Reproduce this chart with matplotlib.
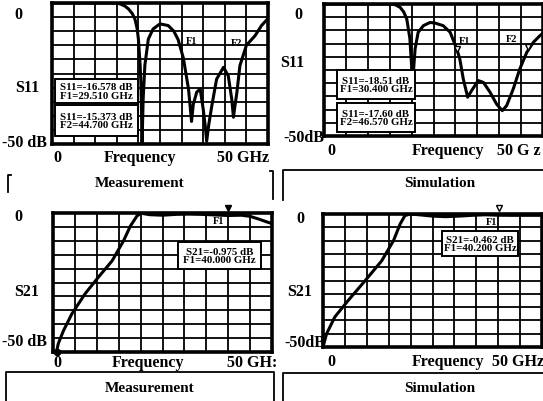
import numpy as np
import matplotlib.pyplot as plt
from matplotlib.patches import Rectangle
from matplotlib.lines import Line2D

W, H = 543, 402
FONT = 'Liberation Serif'

# --- data (GHz, dB) ---
meas_s11_f = [0, 5, 10, 15, 15.7, 16.8, 17.7, 18.6, 19.2, 19.7, 20.0, 20.4, 20.6,
              20.85, 21.1, 21.5, 22.3, 23.4, 25.0, 26.9, 28.2, 29.2, 30.4, 31.6,
              32.0, 32.3, 32.7, 33.5, 34.3, 35.0, 35.5, 35.8, 36.3, 37.0, 38.1,
              39.7, 40.8, 41.6, 42.0, 42.3, 42.8, 43.5, 45.0, 47.0, 48.5, 50.0]
meas_s11_db = [0, 0, 0, 0, -0.3, -1.0, -2.1, -3.8, -5.7, -9, -12.8, -22, -29,
               -50, -34, -22, -12.8, -9.2, -7.4, -8, -10, -13, -19.5, -30.5,
               -37, -42, -36, -31.6, -30.5, -37.6, -44, -49, -43, -36.4, -27,
               -22.8, -25.8, -34, -40.5, -37, -31.7, -22.2, -15, -11.6, -8, -5.5]

sim_s11_f = [0, 5, 10, 15, 16.3, 17.4, 18.2, 18.9, 19.6, 20.0, 20.2, 20.4, 20.8,
             21.5, 22.7, 24.2, 25.3, 27.2, 28.8, 30.3, 31.0, 31.8, 32.8, 33.7,
             35.2, 36.4, 37.9, 39.4, 40.7, 41.7, 43.2, 44.7, 46.3, 47.8, 49.3, 50]
sim_s11_db = [0, 0, 0, 0, -0.3, -1.3, -3, -5.7, -13, -23.4, -32, -26, -17,
              -10.7, -8.2, -7, -7.2, -8.2, -10.7, -17, -20.8, -28.4, -35.3, -32.8,
              -29, -29.7, -33.4, -37.9, -40.4, -38.5, -32.2, -24.6, -18.3, -14.5, -12, -11]

meas_s21_f = [0.8, 1.2, 2.4, 4.3, 7.3, 10.4, 13.5, 16.1, 17.7, 19.2, 20.2, 22, 25,
              28, 31, 34, 37, 40, 43, 45, 47, 49, 50]
meas_s21_db = [-50, -47, -42.3, -36.3, -29.1, -23, -17.2, -10, -4.6, -1, -0.1, -0.6,
               -0.8, -0.5, -0.4, -0.5, -0.7, -0.9, -0.8, -1.2, -2.2, -3.3, -3.8]

sim_s21_f = [0, 0.8, 2.7, 5.7, 9.6, 13.4, 16.1, 17.6, 18.7, 19.9, 22, 25, 28, 31,
             34, 37, 40, 43, 46, 50]
sim_s21_db = [-50, -45.1, -38.7, -32.6, -25.1, -17.6, -10, -3.8, -0.6, 0, -0.3,
              -0.8, -1.0, -0.8, -0.5, -0.3, -0.46, -0.5, -0.5, -0.5]

sim_s11_marks = [(30.40, -18.51), (46.57, -17.60)]

fig = plt.figure(figsize=(W / 100, H / 100), dpi=100)


def px_axes(x0, y0, x1, y1):
    return fig.add_axes([x0 / W, 1 - y1 / H, (x1 - x0) / W, (y1 - y0) / H])


def ftext(x, y, s, size=11.5, ha='center', va='center'):
    fig.text(x / W, 1 - y / H, s, fontsize=size, ha=ha, va=va,
             family=FONT, weight='bold')


def fline(xs, ys, lw=1.3):
    fig.add_artist(Line2D([x / W for x in xs], [1 - y / H for y in ys],
                          color='black', lw=lw))


def setup(ax):
    ax.set_xlim(0, 50)
    ax.set_ylim(-50, 0)
    ax.set_xticks(np.linspace(0, 50, 11))
    ax.set_yticks(np.linspace(-50, 0, 11))
    ax.grid(True, color='black', lw=1.3)
    ax.tick_params(length=0, labelbottom=False, labelleft=False)
    for s in ax.spines.values():
        s.set_linewidth(2.6)


def box(ax, x0, y0, x1, y1, lines, size=7.8):
    ax.add_patch(Rectangle((x0, y0), x1 - x0, y1 - y0, transform=ax.transAxes,
                           facecolor='white', edgecolor='black', lw=1.4, zorder=5))
    ax.text((x0 + x1) / 2, (y0 + y1) / 2, '\n'.join(lines), transform=ax.transAxes,
            ha='center', va='center', fontsize=size, family=FONT, weight='bold',
            linespacing=0.95, zorder=6)


def mlabel(ax, f, db, s):
    ax.text(f, db, s, fontsize=7.5, family=FONT, weight='bold',
            ha='center', va='center', zorder=4)


# top left: measured S11
ax1 = px_axes(52, 4, 268, 145)
setup(ax1)
ax1.plot(meas_s11_f, meas_s11_db, color='black', lw=2.2, zorder=3)
box(ax1, 0.014, 0.29, 0.398, 0.46, ['S11=-16.578 dB', 'F1=29.510 GHz'])
box(ax1, 0.014, 0.057, 0.398, 0.277, ['S11=-15.373 dB', 'F2=44.700 GHz'])
mlabel(ax1, 32.3, -13.4, 'F1')
mlabel(ax1, 42.8, -14, 'F2')

# top right: simulated S11
ax2 = px_axes(324, 5, 543, 137)
setup(ax2)
ax2.plot(sim_s11_f, sim_s11_db, color='black', lw=2.2, zorder=3)
for f, db in sim_s11_marks:
    ax2.plot(f, db + 1.5, marker='v', ms=4.5, mfc='white', mec='black', mew=1.0, zorder=4)
box(ax2, 0.058, 0.28, 0.416, 0.502, ['S11=-18.51 dB', 'F1=30.400 GHz'])
box(ax2, 0.058, 0.028, 0.416, 0.25, ['S11=-17.60 dB', 'F2=46.570 GHz'])
mlabel(ax2, 32.2, -13.9, 'F1')
mlabel(ax2, 42.8, -13, 'F2')

# bottom left: measured S21
ax3 = px_axes(53, 214, 272, 353)
setup(ax3)
ax3.plot(meas_s21_f, meas_s21_db, color='black', lw=2.2, zorder=3)
ax3.plot(meas_s21_f[0], meas_s21_db[0], 'o', color='black', ms=4.5, clip_on=False, zorder=4)
ax3.plot(40.0, 1.8, marker='v', ms=4, color='black', clip_on=False, zorder=4)
box(ax3, 0.569, 0.597, 0.95, 0.791, ['S21=-0.975 dB', 'F1=40.000 GHz'])
mlabel(ax3, 37.9, -2.8, 'F1')

# bottom right: simulated S21
ax4 = px_axes(323, 215, 542, 348)
setup(ax4)
ax4.plot(sim_s21_f, sim_s21_db, color='black', lw=2.2, zorder=3)
ax4.plot(40.2, 2.2, marker='v', ms=4.5, mfc='white', mec='black', mew=1.0,
         clip_on=False, zorder=4)
box(ax4, 0.543, 0.684, 0.89, 0.872, ['S21=-0.462 dB', 'F1=40.200 GHz'])
mlabel(ax4, 38.5, -2.9, 'F1')

# axis annotations
ftext(18, 15, '0')
ftext(27, 88, 'S11')
ftext(24, 143, '-50 dB')
ftext(57, 158, '0')
ftext(140, 158, 'Frequency')
ftext(243, 158, '50 GHz')

ftext(298, 15, '0')
ftext(292, 63, 'S11')
ftext(304, 138, '-50dB')
ftext(331, 151, '0')
ftext(448, 151, 'Frequency')
ftext(541, 151, '50 G z', ha='right')

ftext(18, 217, '0')
ftext(27, 292, 'S21')
ftext(24, 342, '-50 dB')
ftext(57, 363, '0')
ftext(148, 363, 'Frequency')
ftext(252, 363, '50 GH:')

ftext(300, 219, '0')
ftext(300, 292, 'S21')
ftext(305, 343, '-50dB')
ftext(331, 362, '0')
ftext(448, 362, 'Frequency')
ftext(518, 362, '50 GHz')

# panel captions
ftext(140, 184, 'Measurement', size=11)
ftext(440, 184, 'Simulation', size=11)
ftext(150, 389, 'Measurement', size=11)
ftext(440, 389, 'Simulation', size=11)

fline([11, 8, 8], [176, 176, 193])
fline([270, 273, 273], [172, 172, 200])
fline([283, 283, 543], [201, 171, 171])
fline([6, 6, 274, 274], [404, 373, 373, 404])
fline([283, 283, 543], [404, 374, 374])

fig.savefig('out.png', dpi=100)
